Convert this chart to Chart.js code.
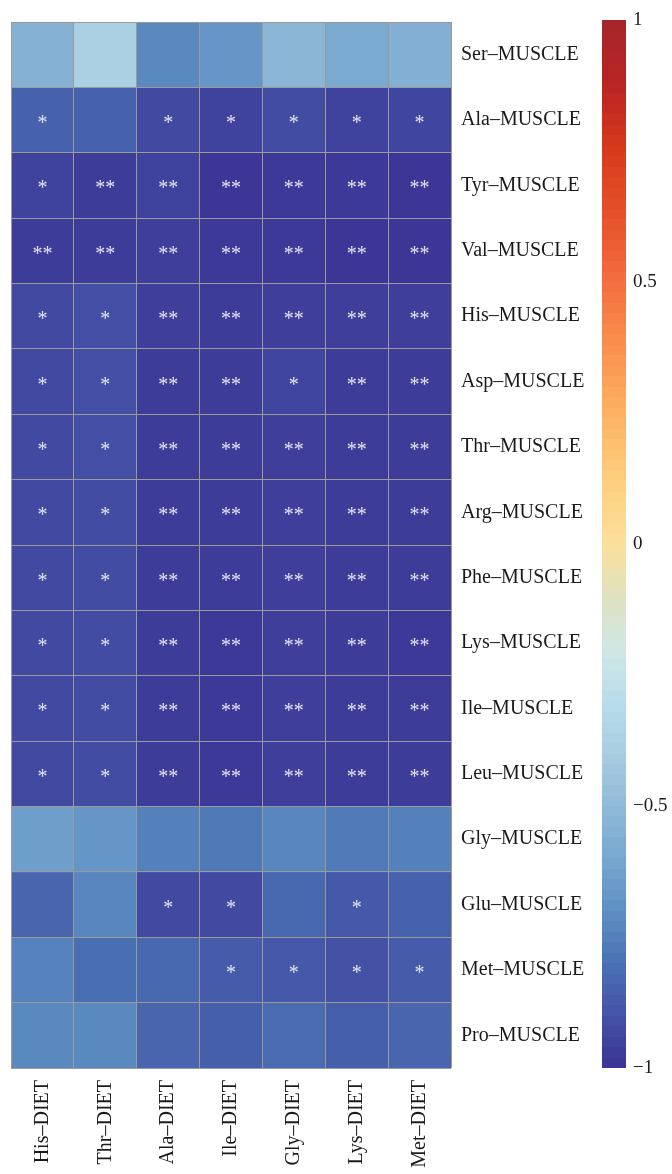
<!DOCTYPE html>
<html>
<head>
<meta charset="utf-8">
<script src="https://cdn.jsdelivr.net/npm/chart.js@4.4.1/dist/chart.umd.min.js"></script>
<style>
  html, body { margin: 0; padding: 0; background: #ffffff; }
  #wrap { position: relative; width: 672px; height: 1174px; overflow: hidden; }
  #heat { position: absolute; left: 0; top: 0; }
  #legend { position: absolute; left: 602px; top: 0; }
</style>
</head>
<body>
<div id="wrap">
  <canvas id="heat" width="595" height="1174"></canvas>
  <canvas id="legend" width="70" height="1174"></canvas>
</div>
<script>
// Muscle amino acids (rows, top to bottom) against diet amino acids (columns)
const rowLabels = [
  'Ser\u2013MUSCLE', 'Ala\u2013MUSCLE', 'Tyr\u2013MUSCLE', 'Val\u2013MUSCLE',
  'His\u2013MUSCLE', 'Asp\u2013MUSCLE', 'Thr\u2013MUSCLE', 'Arg\u2013MUSCLE',
  'Phe\u2013MUSCLE', 'Lys\u2013MUSCLE', 'Ile\u2013MUSCLE', 'Leu\u2013MUSCLE',
  'Gly\u2013MUSCLE', 'Glu\u2013MUSCLE', 'Met\u2013MUSCLE', 'Pro\u2013MUSCLE'
];
const colLabels = [
  'His\u2013DIET', 'Thr\u2013DIET', 'Ala\u2013DIET', 'Ile\u2013DIET',
  'Gly\u2013DIET', 'Lys\u2013DIET', 'Met\u2013DIET'
];

// Correlation coefficients, one list per muscle row
const corr = [
  [-0.55, -0.38, -0.72, -0.67, -0.52, -0.59, -0.56],
  [-0.85, -0.85, -0.93, -0.95, -0.92, -0.95, -0.94],
  [-0.95, -0.97, -0.95, -0.99, -0.98, -0.98, -0.99],
  [-0.97, -0.97, -0.96, -0.98, -0.98, -0.99, -0.99],
  [-0.93, -0.91, -0.96, -0.97, -0.96, -0.96, -0.96],
  [-0.93, -0.91, -0.97, -0.97, -0.94, -0.97, -0.97],
  [-0.93, -0.91, -0.97, -0.97, -0.96, -0.97, -0.97],
  [-0.93, -0.92, -0.97, -0.97, -0.96, -0.97, -0.97],
  [-0.93, -0.92, -0.97, -0.97, -0.96, -0.97, -0.97],
  [-0.93, -0.92, -0.97, -0.98, -0.96, -0.97, -0.98],
  [-0.93, -0.92, -0.97, -0.98, -0.96, -0.97, -0.97],
  [-0.93, -0.92, -0.97, -0.98, -0.96, -0.97, -0.97],
  [-0.64, -0.67, -0.75, -0.78, -0.73, -0.77, -0.75],
  [-0.84, -0.73, -0.93, -0.93, -0.83, -0.88, -0.85],
  [-0.74, -0.81, -0.83, -0.87, -0.88, -0.90, -0.87],
  [-0.72, -0.72, -0.84, -0.86, -0.82, -0.86, -0.84]
];

// Significance marks (* p < 0.05, ** p < 0.01)
const stars = [
  ['', '', '', '', '', '', ''],
  ['*', '', '*', '*', '*', '*', '*'],
  ['*', '**', '**', '**', '**', '**', '**'],
  ['**', '**', '**', '**', '**', '**', '**'],
  ['*', '*', '**', '**', '**', '**', '**'],
  ['*', '*', '**', '**', '*', '**', '**'],
  ['*', '*', '**', '**', '**', '**', '**'],
  ['*', '*', '**', '**', '**', '**', '**'],
  ['*', '*', '**', '**', '**', '**', '**'],
  ['*', '*', '**', '**', '**', '**', '**'],
  ['*', '*', '**', '**', '**', '**', '**'],
  ['*', '*', '**', '**', '**', '**', '**'],
  ['', '', '', '', '', '', ''],
  ['', '', '*', '*', '', '*', ''],
  ['', '', '', '*', '*', '*', '*'],
  ['', '', '', '', '', '', '']
];

// Colour scale (value -> colour) and legend ticks
const stopValues = [-1, -0.9, -0.8, -0.7, -0.6, -0.5, -0.4, -0.3, -0.2, -0.1, 0, 0.1, 0.2, 0.3, 0.4, 0.5, 0.6, 0.75, 0.88, 1];
const stopColors = ['#3b3394', '#4452a6', '#4a72b3', '#5e8fc3', '#78a8cf', '#90bad8', '#a8cde2', '#b8dcea', '#cfe8e4', '#dfe1bf',
                    '#fbe09a', '#fdd283', '#fcbe6c', '#fba45a', '#f88a4a', '#f46d3f', '#ea5730', '#d83a1c', '#b82424', '#a6262a'];
const legendTicks = [1, 0.5, 0, -0.5, -1];

const FONT = 'Liberation Serif';
const TEXT = '#1a1a1a';
const GRID = '#9a9a9a';

function hexToRgb(h) {
  const n = parseInt(h.slice(1), 16);
  return [(n >> 16) & 255, (n >> 8) & 255, n & 255];
}
const stopRgb = stopColors.map(hexToRgb);

function colorFor(v) {
  if (v <= stopValues[0]) return stopColors[0];
  for (let i = 1; i < stopValues.length; i++) {
    if (v <= stopValues[i]) {
      const t = (v - stopValues[i - 1]) / (stopValues[i] - stopValues[i - 1]);
      const a = stopRgb[i - 1], b = stopRgb[i];
      const c = a.map((x, k) => Math.round(x + (b[k] - x) * t));
      return 'rgb(' + c.join(',') + ')';
    }
  }
  return stopColors[stopColors.length - 1];
}

// One floating-bar dataset per row; row i covers [15 - i, 16 - i] on the y scale
const nRows = rowLabels.length;
const datasets = rowLabels.map((name, i) => ({
  label: name,
  data: colLabels.map(() => [nRows - 1 - i, nRows - i]),
  backgroundColor: corr[i].map(colorFor),
  borderWidth: 0,
  barPercentage: 1,
  categoryPercentage: 1,
  grouped: false
}));

const starPlugin = {
  id: 'stars',
  afterDatasetsDraw(chart) {
    const ctx = chart.ctx;
    ctx.save();
    ctx.font = '20px "' + FONT + '"';
    ctx.fillStyle = 'rgba(236,236,250,0.95)';
    ctx.textAlign = 'center';
    ctx.textBaseline = 'alphabetic';
    chart.data.datasets.forEach((ds, i) => {
      const meta = chart.getDatasetMeta(i);
      meta.data.forEach((bar, j) => {
        const s = stars[i][j];
        if (!s) return;
        const p = bar.getProps(['x', 'y', 'base'], true);
        const cy = (p.y + p.base) / 2;
        ctx.fillText(s, p.x, cy + 9);
      });
    });
    ctx.restore();
  }
};

new Chart(document.getElementById('heat'), {
  type: 'bar',
  data: { labels: colLabels, datasets },
  options: {
    responsive: false,
    animation: false,
    devicePixelRatio: 1,
    layout: { padding: { left: 11, top: 19, right: 0, bottom: 0 } },
    plugins: { legend: { display: false }, tooltip: { enabled: false } },
    scales: {
      x: {
        type: 'category',
        offset: true,
        grid: { offset: true, color: GRID, lineWidth: 1, drawTicks: false, z: 1 },
        border: { display: false },
        ticks: {
          minRotation: 90, maxRotation: 90, autoSkip: false, padding: 12,
          color: TEXT, font: { family: FONT, size: 20 }
        },
        afterFit(s) { s.height = 106; }
      },
      y: {
        type: 'linear',
        position: 'right',
        min: 0,
        max: nRows,
        grid: { offset: true, color: GRID, lineWidth: 1, drawTicks: false, z: 1 },
        border: { display: false },
        afterBuildTicks(s) {
          s.ticks = rowLabels.map((_, k) => ({ value: k + 0.5 }));
        },
        ticks: {
          padding: 10, color: TEXT, font: { family: FONT, size: 20 },
          callback: (v) => rowLabels[nRows - 1 - Math.floor(v)]
        },
        afterFit(s) { s.width = 144; }
      }
    }
  },
  plugins: [starPlugin]
});

// Colour key: a single floating bar from -1 to 1 filled with the scale
const legendBins = 100;
new Chart(document.getElementById('legend'), {
  type: 'bar',
  data: {
    labels: ['r'],
    datasets: [{
      data: [[-1, 1]],
      borderWidth: 0,
      barPercentage: 1,
      categoryPercentage: 1,
      backgroundColor(ctx) {
        const chart = ctx.chart;
        const ys = chart.scales.y;
        if (!ys || !chart.chartArea) return stopColors[0];
        const y0 = ys.getPixelForValue(-1), y1 = ys.getPixelForValue(1);
        const g = chart.ctx.createLinearGradient(0, y0, 0, y1);
        for (let k = 0; k < legendBins; k++) {
          const v = -1 + (k + 0.5) * 2 / legendBins;
          const c = colorFor(v);
          g.addColorStop(k / legendBins, c);
          g.addColorStop((k + 1) / legendBins, c);
        }
        return g;
      }
    }]
  },
  options: {
    responsive: false,
    animation: false,
    devicePixelRatio: 1,
    layout: { padding: { left: 0, top: 20, right: 0, bottom: 106 } },
    plugins: { legend: { display: false }, tooltip: { enabled: false } },
    scales: {
      x: { display: false },
      y: {
        type: 'linear',
        position: 'right',
        min: -1,
        max: 1,
        grid: { display: false, drawTicks: false },
        border: { display: false },
        afterBuildTicks(s) { s.ticks = legendTicks.map(v => ({ value: v })); },
        ticks: {
          padding: 7, color: TEXT, font: { family: FONT, size: 19 },
          callback: (v) => (v < 0 ? '\u2212' + String(-v) : String(v))
        },
        afterFit(s) { s.width = 46; }
      }
    }
  }
});
</script>
</body>
</html>
